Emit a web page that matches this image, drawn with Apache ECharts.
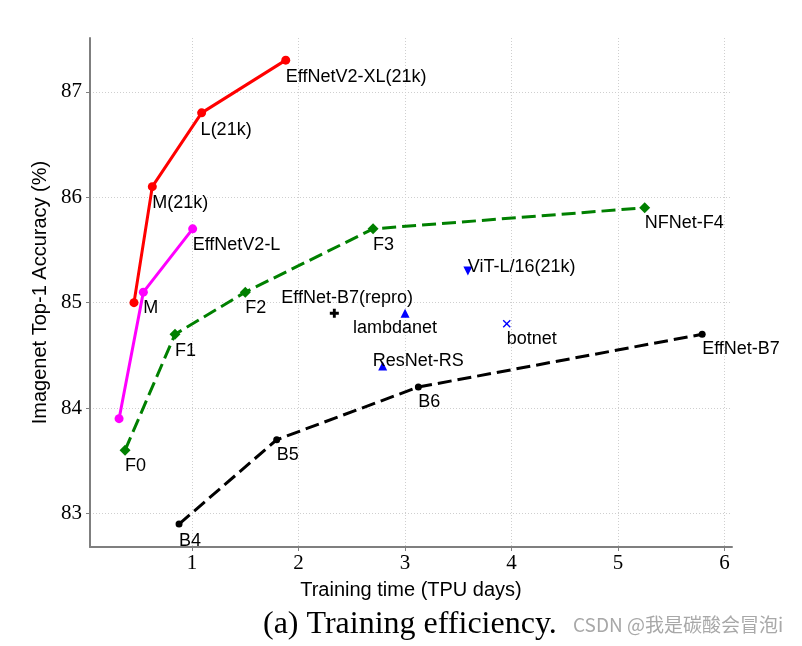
<!DOCTYPE html>
<html>
<head>
<meta charset="utf-8">
<script src="https://cdn.jsdelivr.net/npm/echarts@6/dist/echarts.min.js"></script>
<style>
html,body{margin:0;padding:0;background:#fff}
#main{width:802px;height:646px}
</style>
</head>
<body>
<div id="main"></div>
<script>
// EfficientNetV2 pretrained on ImageNet21k
var v2_21k_x = [0.455, 0.627, 1.09, 1.88]
var v2_21k_y = [85.0, 86.1, 86.8, 87.3]
var v2_21k_name = ['', 'M(21k)', 'L(21k)', 'EffNetV2-XL(21k)']
// EfficientNetV2
var v2_x = [0.315, 0.543, 1.006]
var v2_y = [83.9, 85.1, 85.7]
var v2_name = ['', 'M', 'EffNetV2-L']
// NFNet
var nf_x = [0.371, 0.84, 1.50, 2.70, 5.25]
var nf_y = [83.6, 84.7, 85.1, 85.7, 85.9]
var nf_name = ['F0', 'F1', 'F2', 'F3', 'NFNet-F4']
// EfficientNet
var eff_x = [0.878, 1.795, 3.125, 5.79]
var eff_y = [82.9, 83.7, 84.2, 84.7]
var eff_name = ['B4', 'B5', 'B6', 'EffNet-B7']
// single models
var other_x = [2.336, 3.0, 2.79, 3.59, 3.955]
var other_y = [84.9, 84.9, 84.4, 85.3, 84.8]
var other_name = ['EffNet-B7(repro)', 'lambdanet', 'ResNet-RS', 'ViT-L/16(21k)', 'botnet']

var xTicks = [1, 2, 3, 4, 5, 6]
var yTicks = [83, 84, 85, 86, 87]

// label placement (px, from the marker)
var labelOffset = {
  'M(21k)': [0, 16], 'L(21k)': [-1, 17], 'EffNetV2-XL(21k)': [0, 17],
  'M': [0, 16], 'EffNetV2-L': [0, 16],
  'F0': [0, 16], 'F1': [0, 17], 'F2': [0, 16], 'F3': [0, 16], 'NFNet-F4': [0, 15],
  'B4': [0, 17], 'B5': [0, 15], 'B6': [0, 15], 'EffNet-B7': [0, 15],
  'EffNet-B7(repro)': [-53, -15], 'lambdanet': [-52, 15], 'ResNet-RS': [-10, -5],
  'ViT-L/16(21k)': [0, -4], 'botnet': [0, 15]
}
var PLUS = 'path://M3.4,0H6.6V3.4H10V6.6H6.6V10H3.4V6.6H0V3.4H3.4Z'
var THIN_PLUS = 'path://M4.3,0H5.7V4.3H10V5.7H5.7V10H4.3V5.7H0V4.3H4.3Z'
var otherStyle = {
  'EffNet-B7(repro)': {symbol: PLUS, symbolSize: 9, color: '#000'},
  'lambdanet': {symbol: 'triangle', symbolSize: 9, color: '#0000ff'},
  'ResNet-RS': {symbol: 'triangle', symbolSize: 9, color: '#0000ff'},
  'ViT-L/16(21k)': {symbol: 'triangle', symbolSize: 9, color: '#0000ff', rotate: 180},
  'botnet': {symbol: THIN_PLUS, symbolSize: 10, color: '#0000ff', rotate: 45}
}

var SANS = '"Liberation Sans", Arial, sans-serif'
var SERIF = '"Liberation Serif", "Times New Roman", serif'

function points(xs, ys, names) {
  var out = []
  for (var i = 0; i < xs.length; i++) {
    out.push({
      name: names[i],
      value: [xs[i], ys[i]],
      label: {show: names[i] !== '', offset: labelOffset[names[i]] || [0, 16]}
    })
  }
  return out
}

var labelBase = {
  show: true,
  position: 'inside',
  align: 'left',
  verticalAlign: 'middle',
  fontSize: 18,
  fontFamily: SANS,
  color: '#000',
  formatter: function (p) { return p.name }
}

function lineSeries(data, color, dashed, symbol, size) {
  return {
    type: 'line',
    data: data,
    symbol: symbol,
    symbolSize: size,
    showAllSymbol: true,
    itemStyle: {color: color, opacity: 1},
    lineStyle: {color: color, width: 3, type: dashed ? [14, 6] : 'solid'},
    label: labelBase,
    emphasis: {disabled: true}
  }
}

var otherData = points(other_x, other_y, other_name).map(function (d) {
  var s = otherStyle[d.name]
  d.symbol = s.symbol
  d.symbolSize = s.symbolSize
  d.symbolRotate = s.rotate || 0
  d.itemStyle = {color: s.color, opacity: 1}
  return d
})

var chart = echarts.init(document.getElementById('main'))
chart.setOption({
  animation: false,
  backgroundColor: '#fff',
  title: {
    text: '(a) Training efficiency.',
    left: 263,
    top: 607,
    padding: 0,
    textStyle: {fontFamily: SERIF, fontSize: 32, fontWeight: 'normal', color: '#000', lineHeight: 35}
  },
  graphic: [{
    type: 'text',
    x: 573,
    y: 625,
    style: {
      text: 'CSDN @我是碳酸会冒泡i',
      font: '19px "Noto Sans CJK SC", sans-serif',
      fill: '#a8a8a8',
      verticalAlign: 'middle'
    }
  }],
  grid: {left: 90, right: 70, top: 38, bottom: 99},
  xAxis: {
    type: 'value',
    min: 0.042,
    max: 6.07,
    name: 'Training time (TPU days)',
    nameLocation: 'middle',
    nameGap: 33,
    nameTextStyle: {fontFamily: SANS, fontSize: 20, color: '#000'},
    axisLine: {lineStyle: {color: '#7f7f7f', width: 2}},
    axisTick: {show: true, length: 4, customValues: xTicks, lineStyle: {color: '#7f7f7f', width: 1}},
    axisLabel: {customValues: xTicks, margin: 6, fontFamily: SERIF, fontSize: 21, color: '#000'},
    splitLine: {show: true, lineStyle: {color: '#cfcfcf', width: 1, type: [1, 2]}}
  },
  yAxis: {
    type: 'value',
    min: 82.683,
    max: 87.51,
    name: 'Imagenet Top-1 Accuracy (%)',
    nameLocation: 'middle',
    nameGap: 36,
    nameTextStyle: {fontFamily: SANS, fontSize: 20, color: '#000'},
    axisLine: {show: true, lineStyle: {color: '#7f7f7f', width: 2}},
    axisTick: {show: true, length: 4, customValues: yTicks, lineStyle: {color: '#7f7f7f', width: 1}},
    axisLabel: {customValues: yTicks, margin: 8, fontFamily: SERIF, fontSize: 21, color: '#000'},
    splitLine: {show: true, lineStyle: {color: '#cfcfcf', width: 1, type: [1, 2]}}
  },
  series: [
    lineSeries(points(eff_x, eff_y, eff_name), '#000000', true, 'circle', 7),
    lineSeries(points(nf_x, nf_y, nf_name), '#008000', true, 'diamond', 11),
    lineSeries(points(v2_x, v2_y, v2_name), '#ff00ff', false, 'circle', 9),
    lineSeries(points(v2_21k_x, v2_21k_y, v2_21k_name), '#ff0000', false, 'circle', 9),
    {
      type: 'scatter',
      data: otherData,
      itemStyle: {opacity: 1},
      label: labelBase,
      emphasis: {disabled: true}
    }
  ]
})
</script>
</body>
</html>
